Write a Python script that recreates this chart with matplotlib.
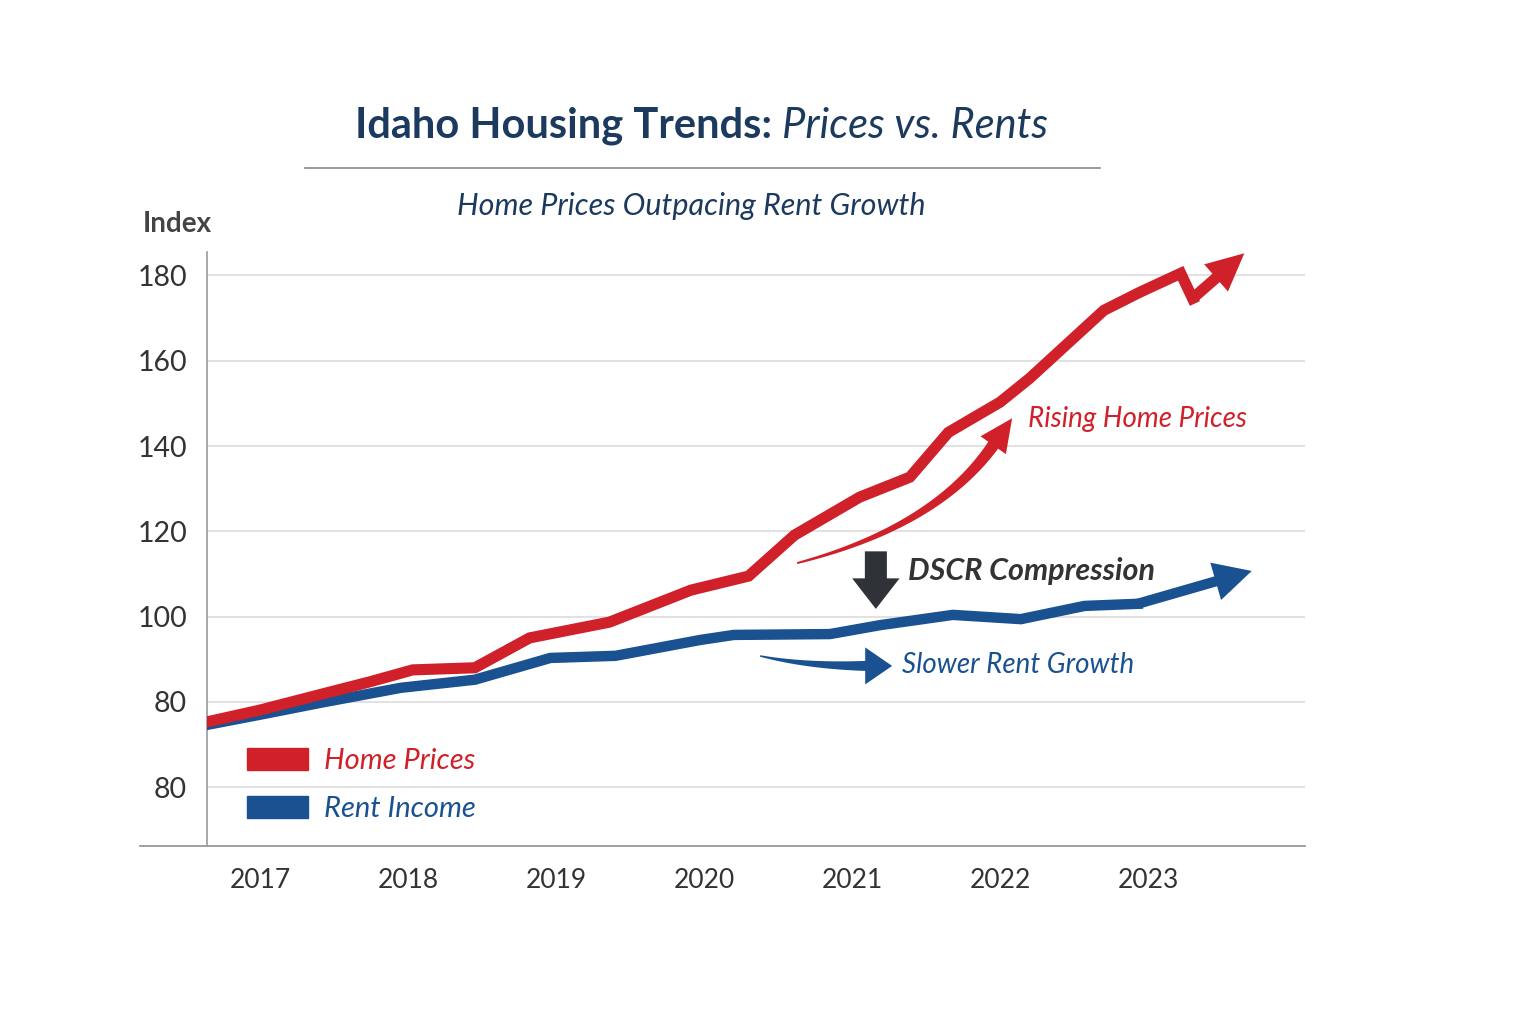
import numpy as np
import matplotlib.pyplot as plt
from matplotlib.lines import Line2D
from matplotlib.patches import Patch, Polygon
from matplotlib.transforms import IdentityTransform

# data (index values)
home_years = [2016.64, 2017.0, 2017.47, 2017.74, 2018.03, 2018.45, 2018.82, 2019.36,
              2019.91, 2020.30, 2020.61, 2021.05, 2021.39, 2021.65, 2022.0, 2022.20,
              2022.70, 2022.94, 2023.22, 2023.30]
home_prices = [75.3, 78.1, 82.3, 84.7, 87.5, 88.0, 95.0, 98.7,
               106.2, 109.5, 119.1, 128.0, 132.7, 143.2, 150.3, 155.9,
               171.8, 176.0, 180.5, 174.6]
home_tip = (2023.65, 185.2)

rent_years = [2016.64, 2017.0, 2017.41, 2017.95, 2018.45, 2018.96, 2019.40, 2019.97,
              2020.20, 2020.85, 2021.19, 2021.68, 2022.14, 2022.57, 2022.93]
rent_income = [74.6, 77.0, 79.8, 83.3, 85.2, 90.3, 90.8, 94.5,
               95.7, 95.9, 98.0, 100.4, 99.4, 102.5, 103.0]
rent_tip = (2023.70, 110.7)

x_ticks = [2017, 2018, 2019, 2020, 2021, 2022, 2023]
y_ticks = [60, 80, 100, 120, 140, 160, 180]
y_tick_labels = ["80", "80", "100", "120", "140", "160", "180"]

RED = "#d0202a"
BLUE = "#1a5190"
NAVY = "#1c3a5e"
DARK = "#333333"
FONT = "Lato"

plt.rcParams["font.family"] = [FONT, "DejaVu Sans"]


def tapered_arrow(ax, start, base, tip, k, w0, w1, head_w, color):
    # curved arrow whose shaft widens from w0 to w1 (pixels), ending in a triangle head
    T = ax.transData
    a, b, c_tip = (np.array(T.transform(p)) for p in (start, base, tip))
    d = (c_tip - b) / np.linalg.norm(c_tip - b)
    ctrl = b - k * d
    t = np.linspace(0, 1, 80)[:, None]
    curve = (1 - t) ** 2 * a + 2 * (1 - t) * t * ctrl + t ** 2 * b
    tang = np.gradient(curve, axis=0)
    tang /= np.linalg.norm(tang, axis=1)[:, None]
    nrm = np.column_stack([-tang[:, 1], tang[:, 0]])
    w = (w0 + (w1 - w0) * t) / 2
    left = curve + nrm * w
    right = curve - nrm * w
    nh = np.array([-d[1], d[0]])
    head = [b + nh * head_w / 2, c_tip, b - nh * head_w / 2]
    pts = np.vstack([left, head, right[::-1]])
    ax.add_patch(Polygon(pts, closed=True, color=color, lw=0,
                         transform=IdentityTransform(), zorder=5))


fig = plt.figure(figsize=(15.36, 10.24), dpi=100)
fig.patch.set_facecolor("white")
ax = fig.add_axes([207 / 1536, 1 - 846 / 1024, (1305 - 207) / 1536, (846 - 252) / 1024])

ax.set_xlim(2016.64, 2024.06)
ax.set_ylim(46.2, 185.5)

ax.plot(rent_years, rent_income, color=BLUE, lw=7.5, solid_joinstyle="miter", zorder=3)
ax.plot(home_years, home_prices, color=RED, lw=8, solid_joinstyle="miter", zorder=4)

# arrow heads at the end of each series
ax.annotate("", xy=home_tip, xytext=(home_years[-1], home_prices[-1]),
            arrowprops=dict(arrowstyle="simple,head_length=1.35,head_width=1.3,tail_width=0.4",
                            mutation_scale=20, color=RED, lw=0, shrinkA=0, shrinkB=0),
            zorder=4, annotation_clip=False)
ax.annotate("", xy=rent_tip, xytext=(rent_years[-1], rent_income[-1]),
            arrowprops=dict(arrowstyle="simple,head_length=1.35,head_width=1.4,tail_width=0.37",
                            mutation_scale=20, color=BLUE, lw=0, shrinkA=0, shrinkB=0),
            zorder=3, annotation_clip=False)

# annotation arrows
tapered_arrow(ax, (2020.628, 112.55), (2021.953, 140.19), (2022.081, 146.51),
              100, 2, 12, 31, RED)
tapered_arrow(ax, (2020.378, 90.77), (2021.088, 88.43), (2021.27, 88.43),
              60, 1.5, 10, 37, BLUE)
ax.annotate("", xy=(2021.16, 101.8), xytext=(2021.16, 115.3),
            arrowprops=dict(arrowstyle="simple,head_length=1.0,head_width=1.55,tail_width=0.72",
                            mutation_scale=22, color="#2f3236", lw=0, shrinkA=0, shrinkB=0))

ax.text(2022.19, 146.4, "Rising Home Prices", color=RED, style="italic", fontsize=20,
        ha="left", va="center")
ax.text(2021.38, 110.6, "DSCR Compression", color=DARK, style="italic", weight="bold",
        fontsize=22, ha="left", va="center")
ax.text(2021.34, 88.6, "Slower Rent Growth", color=BLUE, style="italic", fontsize=20,
        ha="left", va="center")

# axes styling
ax.set_yticks(y_ticks)
ax.set_yticklabels(y_tick_labels)
ax.set_xticks(x_ticks)
ax.set_xticklabels([str(y) for y in x_ticks])
ax.tick_params(axis="both", length=0, colors=DARK)
ax.tick_params(axis="y", pad=14.4, labelsize=20.5)
ax.tick_params(axis="x", pad=15.5, labelsize=19)
ax.grid(axis="y", color="#dddddd", lw=1.2)
ax.set_axisbelow(True)
for side in ["top", "right", "bottom"]:
    ax.spines[side].set_visible(False)
ax.spines["left"].set_color("#999999")
ax.spines["left"].set_linewidth(1.2)

fig.add_artist(Line2D([140 / 1536, 1305 / 1536], [1 - 846 / 1024] * 2,
                      color="#999999", lw=1.3))

# legend
handles = [Patch(color=RED), Patch(color=BLUE)]
leg = ax.legend(handles, ["Home Prices", "Rent Income"], loc="upper left",
                bbox_to_anchor=(40 / 1098, 0.165), frameon=False, borderpad=0,
                borderaxespad=0, handlelength=2.1, handleheight=0.8, handletextpad=0.55,
                labelspacing=0.75, prop={"style": "italic", "size": 21})
for txt, col in zip(leg.get_texts(), [RED, BLUE]):
    txt.set_color(col)

# titles
fig.text(772 / 1536, 1 - 126 / 1024, "Idaho Housing Trends:", color=NAVY, fontsize=30,
         weight="bold", ha="right", va="center")
fig.text(782 / 1536, 1 - 126 / 1024, "Prices vs. Rents", color=NAVY, fontsize=30,
         style="italic", ha="left", va="center")
fig.add_artist(Line2D([305 / 1536, 1100 / 1536], [1 - 168 / 1024] * 2,
                      color="#8a8a8a", lw=1.2))
fig.text(691 / 1536, 1 - 206 / 1024, "Home Prices Outpacing Rent Growth", color=NAVY,
         fontsize=22, style="italic", ha="center", va="center")
fig.text(143 / 1536, 1 - 224 / 1024, "Index", color="#444444", fontsize=20,
         weight="bold", ha="left", va="center")

fig.savefig("out.png", dpi=100)
